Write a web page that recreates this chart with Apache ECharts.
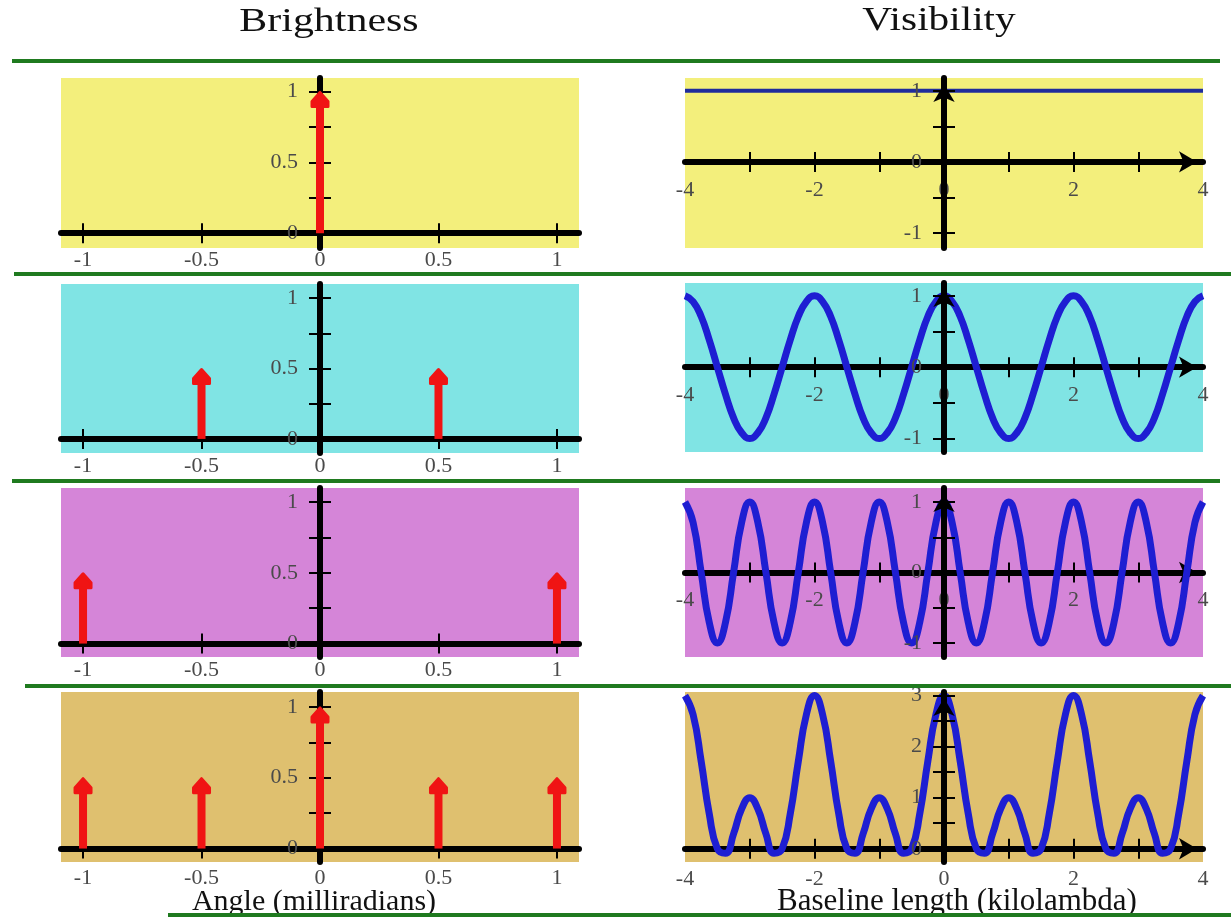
<!DOCTYPE html>
<html><head><meta charset="utf-8">
<script src="https://cdn.jsdelivr.net/npm/echarts@6/dist/echarts.min.js"></script>
<style>html,body{margin:0;padding:0;background:#fff}#c{width:1231px;height:923px}</style>
</head><body><div id="c"></div>
<script>
// ---- tick / label values ----
const angleTicks = [-1, -0.5, 0.5, 1];
const angleLabels = [-1, -0.5, 0, 0.5, 1];
const brightTicks = [0.25, 0.5, 0.75, 1];
const brightLabels = [0, 0.5, 1];
const baselineTicks = [-3, -2, -1, 1, 2, 3];
const baselineLabels = [-4, -2, 0, 2, 4];
const visTicks = [-1, -0.5, 0.5, 1];
const visLabels = [-1, 0, 1];
const vis4Ticks = [0.5, 1, 1.5, 2, 2.5, 3];
const vis4Labels = [0, 1, 2, 3];

// ---- brightness (point sources) ----
const bright1Angle = [0];
const bright1Value = [1];
const bright2Angle = [-0.5, 0.5];
const bright2Value = [0.5, 0.5];
const bright3Angle = [-1, 1];
const bright3Value = [0.5, 0.5];
const bright4Angle = [-1, -0.5, 0, 0.5, 1];
const bright4Value = [0.5, 0.5, 1, 0.5, 0.5];

// ---- visibility ----
const vis1Baseline = [-4, 4];
const vis1 = [1, 1];
const baseline = [-4,-3.875,-3.75,-3.625,-3.5,-3.375,-3.25,-3.125,-3,-2.875,-2.75,-2.625,-2.5,-2.375,-2.25,-2.125,
  -2,-1.875,-1.75,-1.625,-1.5,-1.375,-1.25,-1.125,-1,-0.875,-0.75,-0.625,-0.5,-0.375,-0.25,-0.125,
  0,0.125,0.25,0.375,0.5,0.625,0.75,0.875,1,1.125,1.25,1.375,1.5,1.625,1.75,1.875,
  2,2.125,2.25,2.375,2.5,2.625,2.75,2.875,3,3.125,3.25,3.375,3.5,3.625,3.75,3.875,4];
const vis2 = [1,0.92,0.71,0.38,0,-0.38,-0.71,-0.92,-1,-0.92,-0.71,-0.38,0,0.38,0.71,0.92,
  1,0.92,0.71,0.38,0,-0.38,-0.71,-0.92,-1,-0.92,-0.71,-0.38,0,0.38,0.71,0.92,
  1,0.92,0.71,0.38,0,-0.38,-0.71,-0.92,-1,-0.92,-0.71,-0.38,0,0.38,0.71,0.92,
  1,0.92,0.71,0.38,0,-0.38,-0.71,-0.92,-1,-0.92,-0.71,-0.38,0,0.38,0.71,0.92,1];
const vis3 = [1,0.71,0,-0.71,-1,-0.71,0,0.71, 1,0.71,0,-0.71,-1,-0.71,0,0.71,
  1,0.71,0,-0.71,-1,-0.71,0,0.71, 1,0.71,0,-0.71,-1,-0.71,0,0.71,
  1,0.71,0,-0.71,-1,-0.71,0,0.71, 1,0.71,0,-0.71,-1,-0.71,0,0.71,
  1,0.71,0,-0.71,-1,-0.71,0,0.71, 1,0.71,0,-0.71,-1,-0.71,0,0.71,1];
const vis4 = [3,2.63,1.71,0.68,0,-0.09,0.29,0.78,1,0.78,0.29,-0.09,0,0.68,1.71,2.63,
  3,2.63,1.71,0.68,0,-0.09,0.29,0.78,1,0.78,0.29,-0.09,0,0.68,1.71,2.63,
  3,2.63,1.71,0.68,0,-0.09,0.29,0.78,1,0.78,0.29,-0.09,0,0.68,1.71,2.63,
  3,2.63,1.71,0.68,0,-0.09,0.29,0.78,1,0.78,0.29,-0.09,0,0.68,1.71,2.63,3];

const FONT = '"Liberation Serif","Times New Roman",serif';
const LABEL = '#4a4a4a';
const RED = '#f01414';
const BLUE = '#1e1ed2';
const GREEN = '#1f7a1f';

function zip(a, b) { return a.map((v, i) => [v, b[i]]); }

const grids = [], xAxes = [], yAxes = [], series = [];

function addPanel(c) {
  const gi = grids.length;
  grids.push({left: c.left, top: c.top, width: c.width, height: c.height, show: true,
    backgroundColor: c.bg, borderWidth: 0, containLabel: false, outerBoundsMode: 'none'});
  const xi = xAxes.length, yi = yAxes.length;
  // distance of the zero lines from the grid edges (axes placed with offset)
  const zeroFromBottom = c.height * (0 - c.ymin) / (c.ymax - c.ymin);
  const zeroFromTop = c.height - zeroFromBottom;
  const zeroFromLeft = c.width * (0 - c.xmin) / (c.xmax - c.xmin);
  const zeroFromRight = c.width - zeroFromLeft;
  const lineStyle = {color: '#000', width: 6};
  const clear = {color: 'rgba(0,0,0,0)', width: 1};
  const tickStyle = {color: '#000', width: 2};
  const arrow = c.arrows ? {symbol: ['none', 'arrow'], symbolSize: [16, 18], symbolOffset: [0, -6]} : {};
  const lab = {fontFamily: FONT, fontSize: 22, color: LABEL};
  xAxes.push({gridIndex: gi, type: 'value', min: c.xmin, max: c.xmax, position: 'bottom', offset: -zeroFromBottom,
    axisLine: Object.assign({show: true, onZero: false, lineStyle: lineStyle}, arrow),
    axisTick: {show: true, customValues: c.xTicks, length: 10, lineStyle: tickStyle},
    axisLabel: Object.assign({show: true, customValues: c.xLabels, margin: c.xMargin}, lab),
    splitLine: {show: false}, z: 1});
  xAxes.push({gridIndex: gi, type: 'value', min: c.xmin, max: c.xmax, position: 'top', offset: -zeroFromTop,
    axisLine: {show: true, onZero: false, lineStyle: clear},
    axisTick: {show: true, customValues: c.xTicks, length: 10, lineStyle: tickStyle},
    axisLabel: {show: false}, splitLine: {show: false}, z: 1});
  yAxes.push({gridIndex: gi, type: 'value', min: c.ymin, max: c.ymax, position: 'left', offset: -zeroFromLeft,
    axisLine: Object.assign({show: true, onZero: false, lineStyle: lineStyle}, arrow),
    axisTick: {show: true, customValues: c.yTicks, length: 11, lineStyle: tickStyle},
    axisLabel: Object.assign({show: true, customValues: c.yLabels, margin: 22}, lab),
    splitLine: {show: false}, z: c.yz});
  yAxes.push({gridIndex: gi, type: 'value', min: c.ymin, max: c.ymax, position: 'right', offset: -zeroFromRight,
    axisLine: {show: true, onZero: false, lineStyle: clear},
    axisTick: {show: true, customValues: c.yTicks, length: 11, lineStyle: tickStyle},
    axisLabel: {show: false}, splitLine: {show: false}, z: c.yz});
  return {xi: xi, yi: yi};
}

function renderArrow(params, api) {
  const x = api.value(0), h = api.value(1);
  const base = api.coord([x, 0]);
  const tip = api.coord([x, h]);
  const headH = 15, headW = 18, stemW = 8;
  return {type: 'group', children: [
    {type: 'rect', shape: {x: base[0] - stemW / 2, y: tip[1] + headH - 2, width: stemW, height: base[1] - tip[1] - headH + 2},
      style: {fill: RED}},
    {type: 'polygon', shape: {points: [[tip[0], tip[1] + 1], [tip[0] - headW / 2 + 1, tip[1] + 10], [tip[0] - headW / 2 + 1, tip[1] + headH],
      [tip[0] + headW / 2 - 1, tip[1] + headH], [tip[0] + headW / 2 - 1, tip[1] + 10]]},
      style: {fill: RED, stroke: RED, lineWidth: 3, lineJoin: 'round'}}
  ]};
}

const leftRows = [
  {top: 78, height: 170, ymin: -0.105, ymax: 1.095, bg: '#f3ef7c', xMargin: 16, a: bright1Angle, v: bright1Value},
  {top: 284, height: 169, ymin: -0.1, ymax: 1.1, bg: '#80e4e4', xMargin: 16, a: bright2Angle, v: bright2Value},
  {top: 488, height: 169, ymin: -0.095, ymax: 1.1, bg: '#d585d8', xMargin: 16, a: bright3Angle, v: bright3Value},
  {top: 692, height: 170, ymin: -0.095, ymax: 1.105, bg: '#dfc06f', xMargin: 19, a: bright4Angle, v: bright4Value}
];
leftRows.forEach(function (r) {
  const ax = addPanel({left: 61, width: 518, top: r.top, height: r.height, xmin: -1.093, xmax: 1.093,
    ymin: r.ymin, ymax: r.ymax, bg: r.bg, xTicks: angleTicks, xLabels: angleLabels, yTicks: brightTicks,
    yLabels: brightLabels, xMargin: r.xMargin, arrows: false, yz: 1});
  series.push({type: 'custom', xAxisIndex: ax.xi, yAxisIndex: ax.yi, renderItem: renderArrow,
    data: zip(r.a, r.v), z: 5});
});

const rightRows = [
  {top: 78, height: 170, ymin: -1.21, ymax: 1.18, bg: '#f3ef7c', xMargin: 17, yTicks: visTicks, yLabels: visLabels,
    u: vis1Baseline, v: vis1, color: '#1f2c9c', width: 4},
  {top: 283, height: 169, ymin: -1.19, ymax: 1.18, bg: '#80e4e4', xMargin: 17, yTicks: visTicks, yLabels: visLabels,
    u: baseline, v: vis2, color: BLUE, width: 7},
  {top: 488, height: 169, ymin: -1.2, ymax: 1.2, bg: '#d585d8', xMargin: 17, yTicks: visTicks, yLabels: visLabels,
    u: baseline, v: vis3, color: BLUE, width: 7},
  {top: 692, height: 170, ymin: -0.26, ymax: 3.07, bg: '#dfc06f', xMargin: 19, yTicks: vis4Ticks, yLabels: vis4Labels,
    u: baseline, v: vis4, color: BLUE, width: 7}
];
rightRows.forEach(function (r) {
  const ax = addPanel({left: 685, width: 518, top: r.top, height: r.height, xmin: -4, xmax: 4,
    ymin: r.ymin, ymax: r.ymax, bg: r.bg, xTicks: baselineTicks, xLabels: baselineLabels, yTicks: r.yTicks,
    yLabels: r.yLabels, xMargin: r.xMargin, arrows: true, yz: 4});
  series.push({type: 'line', xAxisIndex: ax.xi, yAxisIndex: ax.yi, data: zip(r.u, r.v), smooth: true,
    symbol: 'none', lineStyle: {color: r.color, width: r.width}, z: 3});
});

function hline(x1, x2, y) {
  return {type: 'line', shape: {x1: x1, y1: y, x2: x2, y2: y}, style: {stroke: GREEN, lineWidth: 4}, z: 10};
}
function label(text, x, y, size, sx) {
  return {type: 'text', x: x, y: y, scaleX: sx, z: 10, style: {text: text, x: 0, y: 0, font: size + 'px ' + FONT, fill: '#111',
    textAlign: 'center', textVerticalAlign: 'middle', align: 'center', verticalAlign: 'middle'}};
}

const chart = echarts.init(document.getElementById('c'));
chart.setOption({
  animation: false,
  grid: grids, xAxis: xAxes, yAxis: yAxes, series: series,
  graphic: [
    label('Brightness', 329, 22, 33, 1.27),
    label('Visibility', 939, 21, 33, 1.25),
    label('Angle (milliradians)', 314, 902, 30, 1.0),
    label('Baseline length (kilolambda)', 957, 902, 31, 1.0),
    hline(12, 1220, 61),
    hline(14, 1231, 274),
    hline(12, 1220, 481),
    hline(25, 1231, 686),
    hline(168, 1231, 915)
  ]
});
</script></body></html>
